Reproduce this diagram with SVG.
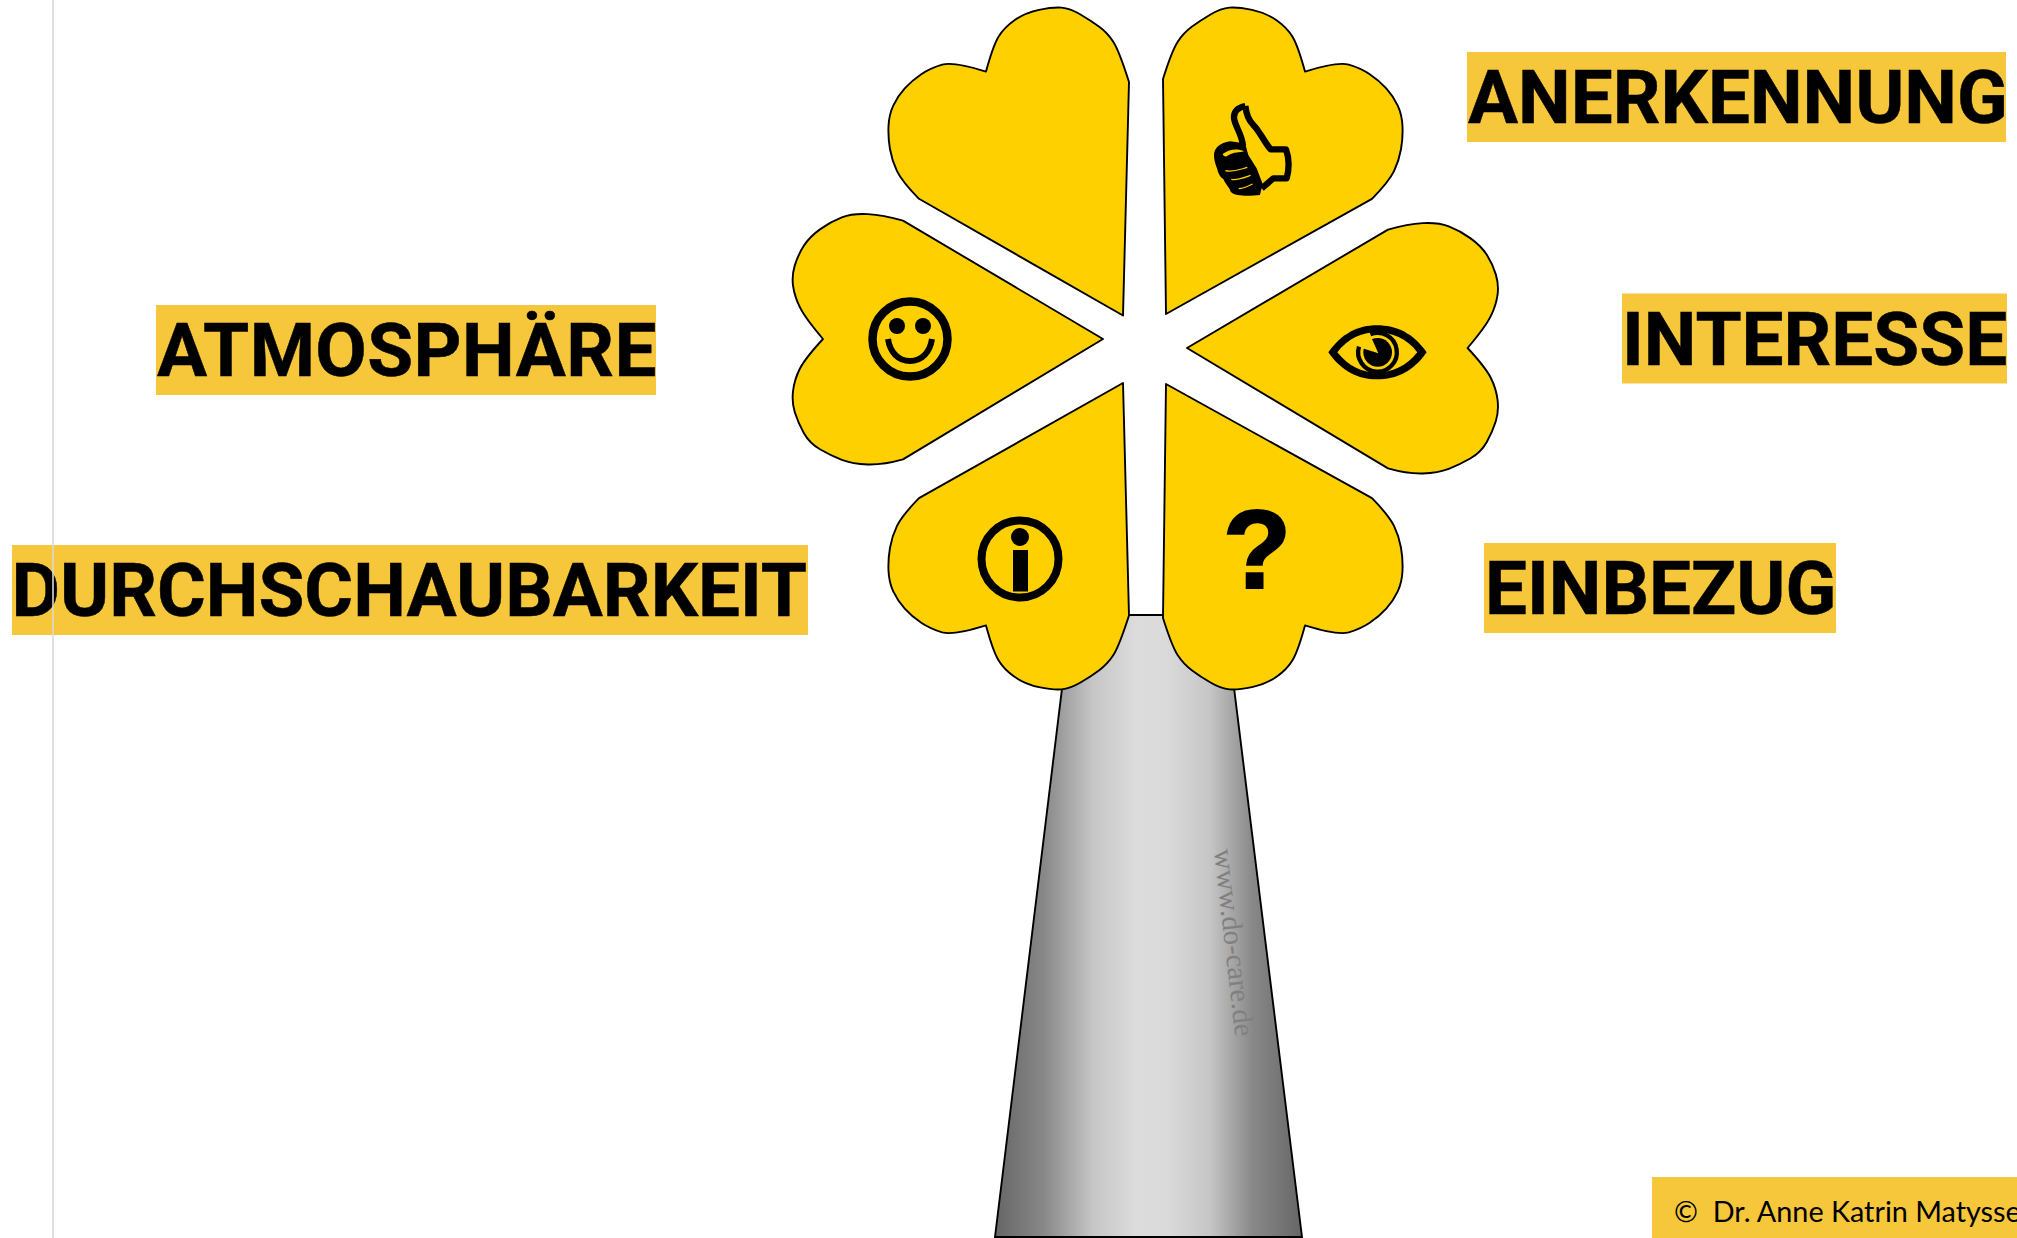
<svg xmlns="http://www.w3.org/2000/svg" width="2017" height="1238" viewBox="0 0 2017 1238">
<style>
.petal{fill:#FFD000;stroke:#000;stroke-width:1.9;stroke-linejoin:round}
.lbg{fill:#F6C73B}
.lbl{font-family:Roboto,"Liberation Sans",sans-serif;font-weight:700;font-size:74.6px;fill:#000;stroke:#000;stroke-width:.5}
.ink{fill:#000}
.ring{fill:none;stroke:#000}
</style>
<defs>
<linearGradient id="g" x1="0" y1="0" x2="1" y2="0">
<stop offset="0" stop-color="#666"/><stop offset=".16" stop-color="#888"/><stop offset=".32" stop-color="#c6c6c6"/><stop offset=".46" stop-color="#dcdcdc"/><stop offset=".56" stop-color="#dadada"/><stop offset=".7" stop-color="#c6c6c6"/><stop offset=".84" stop-color="#888"/><stop offset="1" stop-color="#666"/>
</linearGradient>
</defs>
<rect width="2017" height="1238" fill="#fff"/>
<g id="trunk">
<polygon points="1071,615 1225,615 1302,1237 995,1237" fill="url(#g)" stroke="#000" stroke-width="1.9"/>
<text transform="translate(1214,850) rotate(83.5)" font-family="'Liberation Serif',serif" font-size="28.8" fill="#808080">www.do-care.de</text>
</g>
<g id="petal-top-left"><path class="petal" d="M1123,315.5 L1129,82 Q1119,50.5 1113.25,41.75 Q1107.5,33 1099.25,26.85 Q1091,20.7 1080.5,14.5 Q1070,8.3 1061.5,7.6 Q1053,6.9 1039,9.9 Q1025,12.9 1014.5,20.25 Q1004,27.6 998.5,36.8 Q993,46 986,71.6 Q954,61.5 942.25,64.6 Q930.5,68 921.25,74.2 Q912,80.4 904.75,88.4 Q897.5,96.4 893.25,105.6 Q889,114.8 888.5,126.3 Q888,137.8 890,149.25 Q892,160.7 897,171.05 Q902,181.4 919,198.8Z"/></g>
<g id="petal-top-right"><path class="petal" d="M1166,314 L1163,79 Q1172,50.5 1177.75,41.75 Q1183.5,33 1191.75,26.85 Q1200,20.7 1210.5,14.5 Q1221,8.3 1229.5,7.6 Q1238,6.9 1252,9.9 Q1266,12.9 1276.5,20.25 Q1287,27.6 1292.5,36.8 Q1298,46 1305,71.6 Q1337,61.5 1348.75,64.6 Q1360.5,68 1369.75,74.2 Q1379,80.4 1386.25,88.4 Q1393.5,96.4 1397.75,105.6 Q1402,114.8 1402.5,126.3 Q1403,137.8 1401,149.25 Q1399,160.7 1394,171.05 Q1389,181.4 1372,198.8Z"/>
<g transform="translate(1180,80) scale(.3333)">
<path d="M196,78C175,82 162,92 162,112C162,135 186,160 189,198" fill="none" stroke="#000" stroke-width="19"/>
<path d="M196,78C200,105 205,120 222,137C240,155 255,190 272,208L318,208C328,235 328,265 320,295L280,295L245,325" fill="none" stroke="#000" stroke-width="19" stroke-linejoin="round"/>
<path class="ink" d="M150,184C120,188 102,205 102,225C102,245 110,260 112,268C115,285 125,295 130,297C138,315 150,325 152,335C165,350 210,348 240,345L248,312L230,265L205,225L195,190Z"/>
<path d="M136,272C160,278 180,268 202,262M154,298C170,302 190,294 212,286M176,326C190,326 205,318 218,312" fill="none" stroke="#FFD000" stroke-width="3.5"/>
<path d="M128,222C150,206 175,206 192,214C180,218 160,216 145,226C138,232 130,230 128,222Z" fill="#FFD000"/>
</g></g>
<g id="petal-right"><path class="petal" d="M1187,348 L1388,229.6 Q1407.6,224 1422.8,223.15 Q1438,222.3 1448.75,226.4 Q1459.5,230.5 1470.25,238.1 Q1481,245.7 1486.8,254.85 Q1492.6,264 1495.8,274.35 Q1499,284.7 1497.5,295.05 Q1496,305.4 1490.75,316.2 Q1485.5,327 1467.6,348 Q1485.5,367.4 1490.75,377.7 Q1496,388 1497.5,399.5 Q1499,411 1495.8,421.3 Q1492.6,431.6 1486.8,441.95 Q1481,452.3 1470.25,458.5 Q1459.5,464.7 1448.75,468.85 Q1438,473 1422.8,473.5 Q1407.6,474 1388,468.4Z"/>
<g transform="translate(1310,300) scale(.3333)">
<path class="ink" d="M55,157C95,100 145,76 200,76C260,76 310,100 350,157C310,215 260,238 200,238C145,238 95,215 55,157Z"/>
<path d="M82,157C115,115 155,97 200,97C245,97 290,115 322,157C290,198 245,218 200,218C155,218 115,198 82,157Z" fill="#FFD000"/>
<path class="ring" stroke-width="13" d="M147,140A58,58 0 1 0 181,103"/>
<circle class="ink" cx="203" cy="157" r="43"/>
<polygon points="205,160 155,144 183,110" fill="#FFD000"/>
</g></g>
<g id="petal-bottom-right"><path class="petal" d="M1166,384 L1163,618 Q1172,646.5 1177.75,655.25 Q1183.5,664 1191.75,670.15 Q1200,676.3 1210.5,682.5 Q1221,688.7 1229.5,689.4 Q1238,690.1 1252,687.1 Q1266,684.1 1276.5,676.75 Q1287,669.4 1292.5,660.2 Q1298,651 1305,625.4 Q1337,635.5 1348.75,632.4 Q1360.5,629 1369.75,622.8 Q1379,616.6 1386.25,608.6 Q1393.5,600.6 1397.75,591.4 Q1402,582.2 1402.5,570.7 Q1403,559.2 1401,547.75 Q1399,536.3 1394,525.95 Q1389,515.6 1372,498.2Z"/>
<text x="1257" y="588" text-anchor="middle" font-family="'Liberation Sans',sans-serif" font-weight="700" font-size="112" stroke="#000" stroke-width="2">?</text></g>
<g id="petal-bottom-left"><path class="petal" d="M1123,383 L1129,615.5 Q1119,646.5 1113.25,655.25 Q1107.5,664 1099.25,670.15 Q1091,676.3 1080.5,682.5 Q1070,688.7 1061.5,689.4 Q1053,690.1 1039,687.1 Q1025,684.1 1014.5,676.75 Q1004,669.4 998.5,660.2 Q993,651 986,625.4 Q954,635.5 942.25,632.4 Q930.5,629 921.25,622.8 Q912,616.6 904.75,608.6 Q897.5,600.6 893.25,591.4 Q889,582.2 888.5,570.7 Q888,559.2 890,547.75 Q892,536.3 897,525.95 Q902,515.6 919,498.2Z"/>
<circle class="ring" cx="1020" cy="559" r="38.5" stroke-width="8"/><circle class="ink" cx="1020" cy="537" r="9"/><rect class="ink" x="1013" y="550" width="15" height="41.5"/></g>
<g id="petal-left"><path class="petal" d="M1103,339 L903,220.6 Q883,215 867.8,214.15 Q852.6,213.3 841.85,217.4 Q831.1,221.5 820.35,229.1 Q809.6,236.7 803.8,245.85 Q798,255 794.8,265.35 Q791.6,275.7 793.1,286.05 Q794.6,296.4 799.85,307.2 Q805.1,318 823,339 Q805.1,358.4 799.85,368.7 Q794.6,379 793.1,390.5 Q791.6,402 794.8,412.3 Q798,422.6 803.8,432.95 Q809.6,443.3 820.35,449.5 Q831.1,455.7 841.85,459.85 Q852.6,464 867.8,464.5 Q883,465 903,459.4Z"/>
<circle class="ring" cx="910" cy="339" r="37.5" stroke-width="8.5"/><circle class="ink" cx="897" cy="326" r="8"/><circle class="ink" cx="923" cy="326" r="8"/>
<path class="ring" stroke-width="6" d="M888,339C890,352 898,361 910,361C922,361 930,352 932,339"/></g>
<g id="label-anerkennung"><rect class="lbg" x="1467" y="52" width="539" height="90"/><text class="lbl" x="1468" y="123">ANERKENNUNG</text></g>
<g id="label-interesse"><rect class="lbg" x="1622" y="293.5" width="385" height="90"/><text class="lbl" x="1622" y="364.5">INTERESSE</text></g>
<g id="label-einbezug"><rect class="lbg" x="1484" y="543" width="352" height="90"/><text class="lbl" x="1485" y="614">EINBEZUG</text></g>
<g id="label-atmosphaere"><rect class="lbg" x="156" y="305" width="500" height="90"/><text class="lbl" x="157" y="376" letter-spacing=".4">ATMOSPHÄRE</text></g>
<g id="label-durchschaubarkeit"><rect class="lbg" x="12" y="545" width="796" height="90"/><text class="lbl" x="11.5" y="616">DURCHSCHAUBARKEIT</text></g>
<g id="label-copyright"><rect class="lbg" x="1652" y="1177" width="365" height="61"/><text x="1674" y="1222" font-family="Lato,sans-serif" font-size="28.8" fill="#000" xml:space="preserve">©  Dr. Anne Katrin Matysse</text></g>
<line x1="53" y1="0" x2="53" y2="1238" stroke="#d9d9d9" stroke-width="1.6"/>
</svg>
